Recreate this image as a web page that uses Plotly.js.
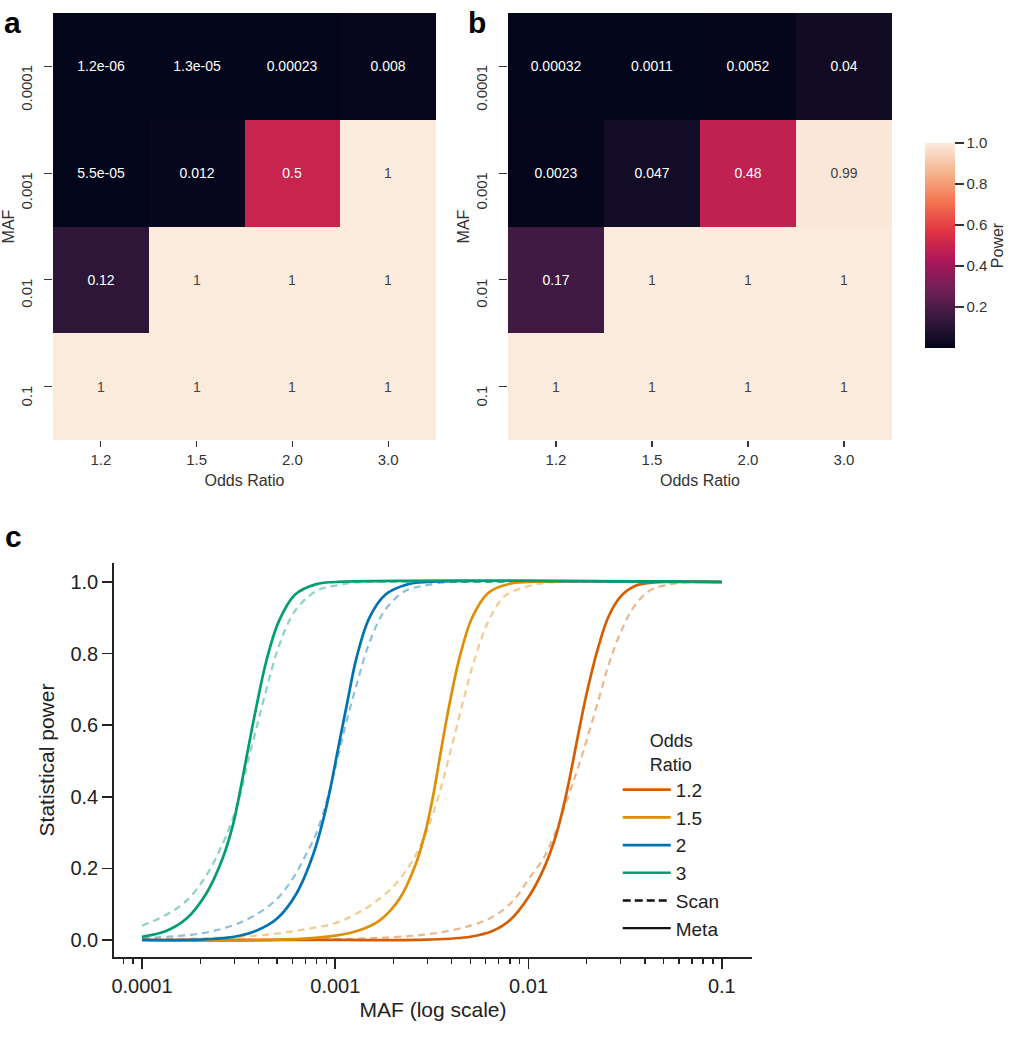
<!DOCTYPE html>
<html><head><meta charset="utf-8">
<script src="https://cdn.plot.ly/plotly-3.0.1.min.js"></script>
<style>html,body{margin:0;padding:0;background:#fff}#chart{width:1016px;height:1050px}</style>
</head><body><div id="chart"></div>
<script>
// ---------- heatmap data (panels a: Meta, b: Scan) ----------
const oddsRatioLabels = ['1.2', '1.5', '2.0', '3.0'];
const mafLabels = ['0.0001', '0.001', '0.01', '0.1'];
const metaPowerGrid = [
  [1.2e-6, 1.3e-5, 0.00023, 0.008],
  [5.5e-5, 0.012, 0.5, 1],
  [0.12, 1, 1, 1],
  [1, 1, 1, 1]
];
const scanPowerGrid = [
  [0.00032, 0.0011, 0.0052, 0.04],
  [0.0023, 0.047, 0.48, 0.99],
  [0.17, 1, 1, 1],
  [1, 1, 1, 1]
];
const colorbarTicks = [0.2, 0.4, 0.6, 0.8, 1.0];

// ---------- power curves (panel c) ----------
const curveOddsRatios = ['1.2', '1.5', '2', '3'];
const curveColors = ['#D55E00', '#DE8F05', '#0173B2', '#029E73'];

const meta12Maf = [1e-4, 1e-3, 3e-3, 5e-3, 6.5e-3, 8e-3, 0.01, 0.012, 0.014, 0.016, 0.018, 0.02, 0.023, 0.026, 0.03, 0.036, 0.045, 0.055, 0.1];
const meta12Pow = [0, 0.0001, 0.001, 0.009, 0.025, 0.055, 0.12, 0.2, 0.3, 0.43, 0.57, 0.69, 0.82, 0.905, 0.96, 0.99, 0.999, 1, 1];

const meta15Maf = [1e-4, 5e-4, 1e-3, 1.33e-3, 1.7e-3, 2.15e-3, 2.62e-3, 2.95e-3, 3.2e-3, 3.5e-3, 3.9e-3, 4.4e-3, 5.1e-3, 6.2e-3, 8e-3, 0.01, 0.1];
const meta15Pow = [0, 0.0003, 0.012, 0.027, 0.055, 0.115, 0.215, 0.31, 0.4, 0.52, 0.66, 0.79, 0.9, 0.97, 0.995, 1, 1];

const meta2Maf = [1e-4, 2e-4, 3e-4, 3.9e-4, 5e-4, 6.3e-4, 7.7e-4, 8.7e-4, 9.4e-4, 1.03e-3, 1.15e-3, 1.29e-3, 1.5e-3, 1.82e-3, 2.35e-3, 3e-3, 0.1];
const meta2Pow = [0.0002, 0.001, 0.009, 0.026, 0.06, 0.13, 0.24, 0.34, 0.42, 0.53, 0.66, 0.79, 0.9, 0.965, 0.993, 1, 1];

const meta3Maf = [1e-4, 1.33e-4, 1.7e-4, 2.15e-4, 2.62e-4, 2.95e-4, 3.2e-4, 3.5e-4, 3.9e-4, 4.4e-4, 5.1e-4, 6.2e-4, 8e-4, 1e-3, 0.1];
const meta3Pow = [0.009, 0.025, 0.06, 0.13, 0.23, 0.32, 0.41, 0.52, 0.65, 0.78, 0.89, 0.965, 0.994, 1, 1];

const scan12Maf = [1e-4, 1e-3, 2e-3, 3e-3, 4e-3, 5e-3, 6e-3, 7e-3, 8.5e-3, 0.01, 0.012, 0.014, 0.016, 0.018, 0.02, 0.023, 0.026, 0.03, 0.035, 0.042, 0.05, 0.065, 0.08, 0.1];
const scan12Pow = [0.00032, 0.0023, 0.008, 0.016, 0.027, 0.04, 0.055, 0.075, 0.115, 0.17, 0.23, 0.31, 0.4, 0.48, 0.56, 0.67, 0.77, 0.86, 0.93, 0.975, 0.99, 0.999, 1, 1];

const scan15Maf = [1e-4, 3e-4, 5e-4, 7e-4, 1e-3, 1.3e-3, 1.6e-3, 2e-3, 2.5e-3, 3e-3, 3.5e-3, 4e-3, 4.6e-3, 5.3e-3, 6.2e-3, 7.5e-3, 9.5e-3, 0.012, 0.015, 0.1];
const scan15Pow = [0.0011, 0.008, 0.018, 0.03, 0.047, 0.075, 0.105, 0.15, 0.22, 0.31, 0.42, 0.54, 0.67, 0.79, 0.89, 0.96, 0.985, 0.997, 1, 1];

const scan2Maf = [1e-4, 2e-4, 3e-4, 4e-4, 5e-4, 6e-4, 7e-4, 8e-4, 9e-4, 1e-3, 1.13e-3, 1.3e-3, 1.5e-3, 1.8e-3, 2.3e-3, 2.9e-3, 3.7e-3, 4.6e-3, 0.1];
const scan2Pow = [0.0052, 0.018, 0.042, 0.075, 0.115, 0.17, 0.235, 0.3, 0.385, 0.48, 0.6, 0.72, 0.83, 0.92, 0.975, 0.99, 0.999, 1, 1];

const scan3Maf = [1e-4, 1.33e-4, 1.7e-4, 2.15e-4, 2.62e-4, 2.95e-4, 3.2e-4, 3.5e-4, 3.9e-4, 4.4e-4, 5.1e-4, 6.2e-4, 8e-4, 1e-3, 1.3e-3, 1.7e-3, 0.1];
const scan3Pow = [0.04, 0.07, 0.11, 0.18, 0.27, 0.34, 0.4, 0.49, 0.59, 0.7, 0.82, 0.92, 0.975, 0.99, 0.999, 1, 1];

const cTickVals = [1e-4, 1e-3, 1e-2, 1e-1];
const cTickText = ['0.0001', '0.001', '0.01', '0.1'];
const powerTicks = [0, 0.2, 0.4, 0.6, 0.8, 1.0];

// ---------- helpers ----------
function fmt2g(v) {
  if (v === 0) return '0';
  const r = Number(v.toPrecision(2));
  const e = Math.floor(Math.log10(Math.abs(r)) + 1e-12);
  if (e < -4 || e >= 2) {
    const s = r.toExponential(1);
    let parts = s.split('e');
    let m = parts[0].replace(/\.?0+$/, '');
    let ex = parts[1];
    const sign = ex[0] === '-' ? '-' : '+';
    let digits = ex.replace(/^[+-]/, '');
    if (digits.length < 2) digits = '0' + digits;
    return m + 'e' + sign + digits;
  }
  return String(r);
}
function hexToRgba(hex, a) {
  const n = parseInt(hex.slice(1), 16);
  return 'rgba(' + ((n >> 16) & 255) + ',' + ((n >> 8) & 255) + ',' + (n & 255) + ',' + a + ')';
}

const rocket = [
  [0, '#03051a'], [0.143, '#35193e'], [0.286, '#701f57'], [0.429, '#ad1759'],
  [0.571, '#e13342'], [0.714, '#f37651'], [0.857, '#f6b48f'], [1, '#faebdd']
];

const FONT = 'Liberation Sans, Arial, sans-serif';

function heatTrace(grid, xa, ya, showScale) {
  return {
    type: 'heatmap', x: oddsRatioLabels, y: mafLabels, z: grid,
    text: grid.map(row => row.map(fmt2g)), texttemplate: '%{text}',
    textfont: {family: FONT, size: 14},
    colorscale: rocket, zmin: 0, zmax: 1, xaxis: xa, yaxis: ya,
    showscale: showScale, hoverinfo: 'skip', xgap: 0, ygap: 0,
    colorbar: showScale ? {
      x: 925 / 1016, xanchor: 'left', xref: 'paper', xpad: 0, ypad: 0,
      y: (1050 - 245.5) / 1050, yanchor: 'middle',
      len: 205, lenmode: 'pixels', thickness: 30, thicknessmode: 'pixels',
      outlinewidth: 0, ticks: 'outside', ticklen: 9, tickwidth: 1.2, tickcolor: '#333',
      tickvals: colorbarTicks, ticktext: colorbarTicks.map(v => v.toFixed(1)),
      tickfont: {family: FONT, size: 15, color: '#333'},
      title: {text: 'Power', side: 'right', font: {family: FONT, size: 16, color: '#333'}}
    } : undefined
  };
}

const traces = [heatTrace(metaPowerGrid, 'x', 'y', false), heatTrace(scanPowerGrid, 'x2', 'y2', true)];

const scanSeries = [[scan12Maf, scan12Pow], [scan15Maf, scan15Pow], [scan2Maf, scan2Pow], [scan3Maf, scan3Pow]];
const metaSeries = [[meta12Maf, meta12Pow], [meta15Maf, meta15Pow], [meta2Maf, meta2Pow], [meta3Maf, meta3Pow]];

scanSeries.forEach((s, i) => traces.push({
  type: 'scatter', mode: 'lines', x: s[0], y: s[1], xaxis: 'x3', yaxis: 'y3',
  line: {color: hexToRgba(curveColors[i], 0.45), width: 2.2, dash: '7px,5px', shape: 'spline', smoothing: 1},
  showlegend: false, hoverinfo: 'skip', name: curveOddsRatios[i] + ' Scan'
}));
metaSeries.forEach((s, i) => traces.push({
  type: 'scatter', mode: 'lines', x: s[0], y: s[1], xaxis: 'x3', yaxis: 'y3',
  line: {color: curveColors[i], width: 2.7, shape: 'spline', smoothing: 1},
  showlegend: true, hoverinfo: 'skip', name: curveOddsRatios[i]
}));
traces.push({type: 'scatter', mode: 'lines', x: [null], y: [null], xaxis: 'x3', yaxis: 'y3',
  line: {color: '#111', width: 2.4, dash: '8px,4px'}, name: 'Scan', showlegend: true, hoverinfo: 'skip'});
traces.push({type: 'scatter', mode: 'lines', x: [null], y: [null], xaxis: 'x3', yaxis: 'y3',
  line: {color: '#111', width: 2.4}, name: 'Meta', showlegend: true, hoverinfo: 'skip'});

const hmYDomain = [(1050 - 440) / 1050, (1050 - 13) / 1050];
function hmX(dom) {
  return {domain: dom, type: 'category', ticks: 'outside', ticklen: 6, tickwidth: 1.2, tickcolor: '#333',
    showgrid: false, zeroline: false, showline: false,
    tickfont: {family: FONT, size: 15, color: '#333'},
    title: {text: 'Odds Ratio', font: {family: FONT, size: 16, color: '#333'}, standoff: 7}};
}
function hmY() {
  return {domain: hmYDomain, type: 'category', autorange: 'reversed', ticks: 'outside', ticklen: 8,
    tickwidth: 1.2, tickcolor: '#333', showticklabels: false, showgrid: false, zeroline: false,
    title: {text: 'MAF', font: {family: FONT, size: 16, color: '#333'}, standoff: 25}};
}

const annotations = [];
[['x domain', 'y'], ['x2 domain', 'y2']].forEach(refs => {
  mafLabels.forEach((lab, i) => annotations.push({
    xref: refs[0], yref: refs[1], x: 0, y: i, xanchor: 'right', yanchor: 'top',
    xshift: -16, yshift: 3, textangle: -90, showarrow: false, text: lab,
    font: {family: FONT, size: 15, color: '#333'}
  }));
});
[['a', 2, 4], ['b', 466, 4], ['c', 3, 518]].forEach(p => annotations.push({
  xref: 'paper', yref: 'paper', x: p[1] / 1016, y: (1050 - p[2]) / 1050, xanchor: 'left', yanchor: 'top',
  showarrow: false, text: '<b>' + p[0] + '</b>', font: {family: FONT, size: 30, color: '#000'}
}));

const layout = {
  width: 1016, height: 1050, margin: {l: 0, r: 0, t: 0, b: 0},
  paper_bgcolor: '#fff', plot_bgcolor: 'rgba(0,0,0,0)',
  font: {family: FONT, color: '#222'},
  xaxis: Object.assign(hmX([53 / 1016, 436 / 1016]), {anchor: 'y'}),
  yaxis: Object.assign(hmY(), {anchor: 'x'}),
  xaxis2: Object.assign(hmX([508 / 1016, 892 / 1016]), {anchor: 'y2'}),
  yaxis2: Object.assign(hmY(), {anchor: 'x2'}),
  xaxis3: {
    domain: [114 / 1016, 752 / 1016], anchor: 'y3', type: 'log', range: [-4.145, -0.844],
    tickmode: 'array', tickvals: cTickVals, ticktext: cTickText,
    ticks: 'outside', ticklen: 10, tickwidth: 1.6, tickcolor: '#222',
    showline: true, linecolor: '#222', linewidth: 1.8, showgrid: false, zeroline: false,
    tickfont: {family: FONT, size: 20, color: '#222'},
    minor: {ticks: 'outside', ticklen: 5, tickwidth: 1.4, tickcolor: '#222', dtick: 'D1', showgrid: false},
    title: {text: 'MAF (log scale)', font: {family: FONT, size: 21, color: '#222'}, standoff: 6}
  },
  yaxis3: {
    domain: [(1050 - 957) / 1050, (1050 - 563) / 1050], anchor: 'x3', range: [-0.0475, 1.053],
    tickmode: 'array', tickvals: powerTicks, ticktext: powerTicks.map(v => v.toFixed(1)),
    ticks: 'outside', ticklen: 10, tickwidth: 1.6, tickcolor: '#222',
    showline: true, linecolor: '#222', linewidth: 1.8, showgrid: false, zeroline: false,
    tickfont: {family: FONT, size: 20, color: '#222'},
    title: {text: 'Statistical power', font: {family: FONT, size: 21, color: '#222'}, standoff: 10}
  },
  showlegend: true,
  legend: {
    x: 0.608, y: (1050 - 724) / 1050, xanchor: 'left', yanchor: 'top', bgcolor: 'rgba(0,0,0,0)',
    font: {family: FONT, size: 19, color: '#222'}, tracegroupgap: 0, itemwidth: 48,
    title: {text: 'Odds<br>Ratio', side: 'top center', font: {family: FONT, size: 18, color: '#222'}}
  },
  annotations: annotations
};

Plotly.newPlot('chart', traces, layout, {staticPlot: true, displayModeBar: false});
</script></body></html>
